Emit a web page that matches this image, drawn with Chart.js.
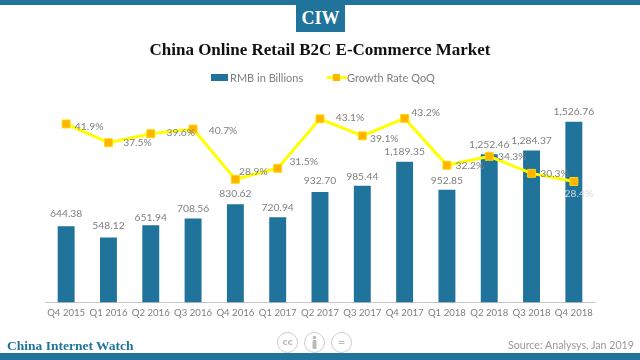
<!DOCTYPE html>
<html>
<head>
<meta charset="utf-8">
<script src="https://cdn.jsdelivr.net/npm/chart.js@4"></script>
<style>
  html, body { margin: 0; padding: 0; background: #fff; }
  #wrap { position: relative; width: 640px; height: 360px; overflow: hidden; }
  #wrap canvas { position: absolute; left: 0; top: 0; }
  .bar { position: absolute; left: 0; width: 640px; background: #20739b; }
  #logo { position: absolute; left: 296px; top: 0; width: 49px; height: 32px; background: #20739b; color: #fff;
    font: bold 18px "Liberation Serif", serif; text-align: center; line-height: 36px; }
  #brand { position: absolute; left: 7px; top: 338px; color: #20739b; font: bold 13.5px "Liberation Serif", serif; }
  #source { position: absolute; right: 6px; top: 338px; color: #999; font: 10.7px Lato, sans-serif; }
  .cc { position: absolute; top: 332px; width: 19px; height: 19px; border: 1.5px solid #ccc; border-radius: 50%;
    color: #bbb; font: bold 9px "DejaVu Sans", sans-serif; text-align: center; line-height: 19px; }
  .cc svg { position: absolute; left: 0; top: 0; }
  .lg { position: absolute; top: 71px; color: #7f7f7f; font: 11px Lato, sans-serif; line-height: 13px; white-space: nowrap; }
  .sw { position: absolute; }
</style>
</head>
<body>
<div id="wrap">
  <canvas id="myChart" width="640" height="360"></canvas>
  <div class="bar" style="top:0;height:5px"></div>
  <div class="bar" style="top:353px;height:7px"></div>
  <div id="logo">CIW</div>
  <div class="sw" style="left:211px;top:74px;width:17px;height:7px;background:#20739b"></div>
  <div class="lg" id="lg0" style="left:230px"></div>
  <div class="sw" style="left:327px;top:76px;width:20px;height:3px;background:#ffff00"></div>
  <div class="sw" style="left:333px;top:74px;width:7px;height:7px;background:#ffb400"></div>
  <div class="lg" id="lg1" style="left:347px"></div>
  <div id="brand">China Internet Watch</div>
  <div class="cc" style="left:277px">cc</div>
  <div class="cc" style="left:304px"><svg width="19" height="19" viewBox="0 0 19 19"><circle cx="9.5" cy="4.5" r="1.8" fill="#bbb"/><rect x="7.5" y="7" width="4" height="9" rx="1" fill="#bbb"/></svg></div>
  <div class="cc" style="left:331px">=</div>
  <div id="source">Source: Analysys, Jan 2019</div>
</div>
<script>
const categories = ["Q4 2015", "Q1 2016", "Q2 2016", "Q3 2016", "Q4 2016", "Q1 2017", "Q2 2017", "Q3 2017", "Q4 2017", "Q1 2018", "Q2 2018", "Q3 2018", "Q4 2018"];
const rmbBillions = [644.38, 548.12, 651.94, 708.56, 830.62, 720.94, 932.70, 985.44, 1189.35, 952.85, 1252.46, 1284.37, 1526.76];
const growthRate = [41.9, 37.5, 39.6, 40.7, 28.9, 31.5, 43.1, 39.1, 43.2, 32.2, 34.3, 30.3, 28.4];
const seriesNames = ["RMB in Billions", "Growth Rate QoQ"];

const BLUE = "#20739b";
const GREY = "#7f7f7f";

// label nudges, picked by eye per point
const barOffsets = [-13, -12, -8, -10, -10, -9, -11, -9, -10, -9, -10, -10, -10];
const growthOffsets = [[23, 3], [29, 0], [30, -1], [30, 2], [18, -8], [26, -7], [30, -1], [22, 3], [21, -6], [23, 0], [23, 0], [23, 0], [5, 12]];

document.getElementById("lg0").textContent = seriesNames[0];
document.getElementById("lg1").textContent = seriesNames[1];

// value labels on top of the bars and next to the line markers
const valueLabels = {
  id: "valueLabels",
  afterDatasetsDraw(chart) {
    const ctx = chart.ctx;
    ctx.save();
    ctx.font = "10.3px Lato, sans-serif";
    ctx.textAlign = "center";
    ctx.textBaseline = "middle";
    ctx.fillStyle = GREY;
    chart.getDatasetMeta(0).data.forEach((bar, i) => {
      const txt = rmbBillions[i].toLocaleString("en-US", { minimumFractionDigits: 2, maximumFractionDigits: 2 });
      ctx.fillText(txt, bar.x, bar.y + barOffsets[i]);
    });
    chart.getDatasetMeta(1).data.forEach((pt, i) => {
      ctx.fillStyle = i === 12 ? "#d4d8da" : GREY;
      ctx.fillText(growthRate[i].toFixed(1) + "%", pt.x + growthOffsets[i][0], pt.y + growthOffsets[i][1]);
    });
    ctx.restore();
  }
};

new Chart(document.getElementById("myChart"), {
  data: {
    labels: categories,
    datasets: [
      {
        type: "bar",
        label: seriesNames[0],
        data: rmbBillions,
        backgroundColor: BLUE,
        barPercentage: 0.4,
        categoryPercentage: 1,
        yAxisID: "y",
        order: 2
      },
      {
        type: "line",
        label: seriesNames[1],
        data: growthRate,
        borderColor: "#ffff00",
        borderWidth: 3,
        tension: 0,
        pointStyle: "rect",
        pointRadius: 5.6,
        pointBackgroundColor: "#ffb400",
        pointBorderColor: "#ffd800",
        pointBorderWidth: 1,
        yAxisID: "y1",
        order: 1
      }
    ]
  },
  plugins: [valueLabels],
  options: {
    responsive: false,
    animation: false,
    layout: { padding: { left: 45, right: 45, top: 40, bottom: 36 } },
    plugins: {
      title: {
        display: true,
        text: "China Online Retail B2C E-Commerce Market",
        color: "#111",
        font: { family: "'Liberation Serif', serif", size: 17, weight: "bold" },
        padding: { top: 0, bottom: 29 }
      },
      legend: { display: false },
      tooltip: { enabled: false }
    },
    scales: {
      x: {
        grid: { display: false, drawTicks: false },
        border: { color: "#c8c8c8" },
        ticks: { color: GREY, font: { family: "Lato, sans-serif", size: 9.6 }, maxRotation: 0, autoSkip: false, padding: 5 }
      },
      y: { display: false, min: 0, max: 1800 },
      y1: { display: false, min: 0, max: 50, position: "right" }
    }
  }
});
</script>
</body>
</html>
